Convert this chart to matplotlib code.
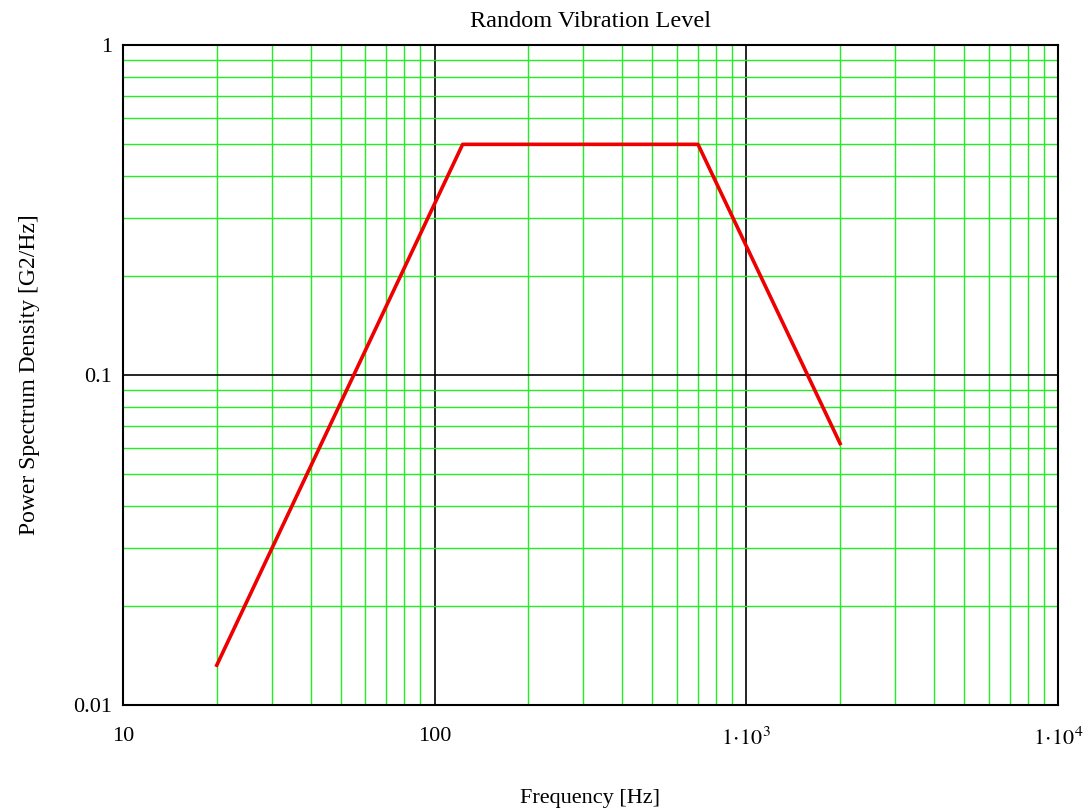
import numpy as np
import matplotlib.pyplot as plt
from matplotlib.ticker import FixedLocator, LogLocator, NullFormatter, FixedFormatter

plt.rcParams['font.family'] = ['Liberation Serif', 'DejaVu Serif']
plt.rcParams['mathtext.fontset'] = 'stix'

# breakpoints of the PSD profile
freq = [20, 123, 700, 2000]
psd = [0.0132, 0.5, 0.5, 0.062]

x_ticks = [10, 100, 1000, 10000]
x_labels = ['10', '100', r'$1\!\cdot\!10^{3}$', r'$1\!\cdot\!10^{4}$']
y_ticks = [0.01, 0.1, 1]
y_labels = ['0.01', '0.1', '1']

fig = plt.figure(figsize=(10.9, 8.11), dpi=100)
ax = fig.add_axes([0.1128, 0.1307, 0.8578, 0.8138])

ax.set_xscale('log')
ax.set_yscale('log')
ax.set_xlim(10, 10000)
ax.set_ylim(0.01, 1)

# minor grid (green) then major grid (black)
ax.xaxis.set_minor_locator(LogLocator(base=10, subs=np.arange(2, 10)))
ax.yaxis.set_minor_locator(LogLocator(base=10, subs=np.arange(2, 10)))
ax.xaxis.set_minor_formatter(NullFormatter())
ax.yaxis.set_minor_formatter(NullFormatter())
ax.grid(which='minor', color='#22ee22', linewidth=1.0)
ax.grid(which='major', color='black', linewidth=1.2)

ax.xaxis.set_major_locator(FixedLocator(x_ticks))
ax.xaxis.set_major_formatter(FixedFormatter(x_labels))
ax.yaxis.set_major_locator(FixedLocator(y_ticks))
ax.yaxis.set_major_formatter(FixedFormatter(y_labels))
ax.tick_params(which='both', length=0, labelsize=16)
ax.tick_params(axis='x', pad=16)
ax.tick_params(axis='y', pad=8)

ax.plot(freq, psd, color='#ee0000', linewidth=2.6, zorder=3)

for s in ax.spines.values():
    s.set_linewidth(1.5)
    s.set_zorder(4)

ax.set_title('Random Vibration Level', fontsize=17.5, pad=13)
ax.set_xlabel('Frequency [Hz]', fontsize=16, labelpad=28)
ax.set_ylabel('Power Spectrum Density [G2/Hz]', fontsize=17, labelpad=24)

fig.savefig('out.png', dpi=100)
